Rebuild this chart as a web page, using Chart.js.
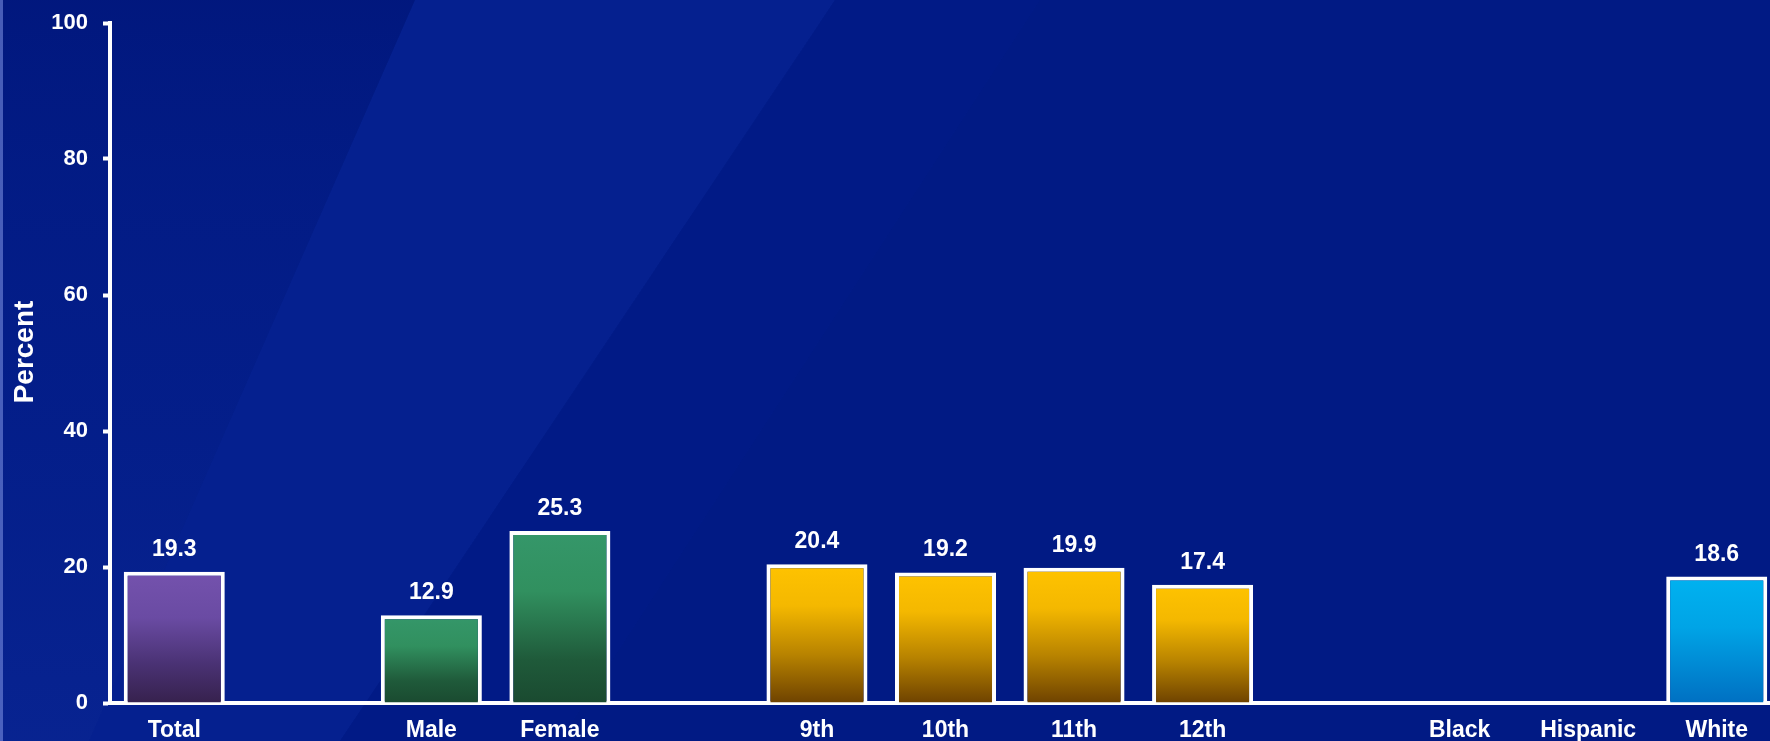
<!DOCTYPE html>
<html>
<head>
<meta charset="utf-8">
<title>Percent by group</title>
<script src="https://cdn.jsdelivr.net/npm/chart.js@4.4.1/dist/chart.umd.min.js"></script>
<style>
    html, body { margin: 0; padding: 0; overflow: hidden; background: #011a84; }
    .chart-wrap { position: relative; width: 1781px; height: 741px; }
</style>
</head>
<body>
<div class="chart-wrap">
    <canvas id="groupChart"></canvas>
</div>
<script>
// Categories (blank entries keep the gaps between groups)
const categories = ['Total', '', 'Male', 'Female', '', '9th', '10th', '11th', '12th', '', 'Black', 'Hispanic', 'White'];
const percents = [19.3, null, 12.9, 25.3, null, 20.4, 19.2, 19.9, 17.4, null, null, null, 18.6];
const barGroups = ['total', null, 'sex', 'sex', null, 'grade', 'grade', 'grade', 'grade', null, 'race', 'race', 'race'];
const yTicks = [0, 20, 40, 60, 80, 100];
const yTitle = 'Percent';

const FONT = '"Liberation Sans", Arial, sans-serif';

// Gradient stops per group, top of bar -> bottom
const groupColors = {
    total: [[0, '#7452ad'], [0.35, '#6a4ba3'], [0.7, '#4a3274'], [1, '#36214d']],
    sex:   [[0, '#35976a'], [0.35, '#31905f'], [0.75, '#1f5a3a'], [1, '#1a4a30']],
    grade: [[0, '#ffc300'], [0.3, '#f4b800'], [0.65, '#b88300'], [1, '#6e4200']],
    race:  [[0, '#00b2f0'], [0.4, '#00a4e6'], [1, '#0070c2']]
};

function barGradient(context) {
    const chart = context.chart;
    if (!chart.chartArea || context.raw == null) return 'transparent';
    const y = chart.scales.y;
    const top = y.getPixelForValue(context.raw);
    const bottom = y.getPixelForValue(0);
    const g = chart.ctx.createLinearGradient(0, top, 0, bottom);
    groupColors[barGroups[context.dataIndex]].forEach(s => g.addColorStop(s[0], s[1]));
    return g;
}

// Navy backdrop with faint diagonal streaks
const backdrop = {
    id: 'backdrop',
    beforeDraw(chart) {
        const ctx = chart.ctx;
        const w = chart.width, h = chart.height;
        ctx.save();
        ctx.fillStyle = '#011a84';
        ctx.fillRect(0, 0, w, h);

        const poly = (pts, color) => {
            ctx.beginPath();
            ctx.moveTo(pts[0][0], pts[0][1]);
            pts.slice(1).forEach(p => ctx.lineTo(p[0], p[1]));
            ctx.closePath();
            ctx.fillStyle = color;
            ctx.fill();
        };
        // left strip: darker at the top, lighter toward the bottom
        const left = ctx.createLinearGradient(0, 0, 0, h);
        left.addColorStop(0, 'rgba(0, 0, 70, 0.10)');
        left.addColorStop(0.5, 'rgba(40, 80, 210, 0.06)');
        left.addColorStop(1, 'rgba(50, 90, 220, 0.14)');
        poly([[0, 0], [415, 0], [89, 741], [0, 741]], left);
        // main lighter band
        poly([[415, 0], [835, 0], [340, 741], [89, 741]], 'rgba(45, 85, 220, 0.12)');
        // faint streak further right
        poly([[835, 0], [1040, 0], [560, 741], [340, 741]], 'rgba(30, 60, 200, 0.04)');

        // light edge on the far left
        ctx.fillStyle = 'rgba(130, 150, 230, 0.55)';
        ctx.fillRect(0, 0, 3, h);
        ctx.restore();
    }
};

// Value above each bar and the rotated axis title
const valueLabels = {
    id: 'valueLabels',
    afterDatasetsDraw(chart) {
        const ctx = chart.ctx;
        const meta = chart.getDatasetMeta(0);
        ctx.save();
        ctx.font = 'bold 23px ' + FONT;
        ctx.fillStyle = '#ffffff';
        ctx.textAlign = 'center';
        ctx.textBaseline = 'alphabetic';
        meta.data.forEach((bar, i) => {
            const v = percents[i];
            if (v == null) return;
            ctx.fillText(v.toFixed(1), bar.x, bar.y - 16);
        });

        ctx.translate(25, 352);
        ctx.rotate(-Math.PI / 2);
        ctx.font = 'bold 28px ' + FONT;
        ctx.textBaseline = 'middle';
        ctx.fillText(yTitle, 0, 0);
        ctx.restore();
    }
};

new Chart(document.getElementById('groupChart'), {
    type: 'bar',
    data: {
        labels: categories,
        datasets: [{
            data: percents,
            backgroundColor: barGradient,
            borderColor: '#ffffff',
            borderWidth: 4,
            borderSkipped: 'bottom',
            barPercentage: 0.786,
            categoryPercentage: 1
        }]
    },
    options: {
        responsive: true,
        maintainAspectRatio: false,
        animation: false,
        layout: { padding: { top: 23, left: 0, right: 0, bottom: 0 } },
        plugins: {
            legend: { display: false },
            tooltip: { enabled: false }
        },
        scales: {
            x: {
                z: 1,
                grid: { display: false, drawTicks: false },
                border: { display: true, color: '#ffffff', width: 4 },
                ticks: {
                    color: '#ffffff',
                    padding: 14,
                    maxRotation: 0,
                    autoSkip: false,
                    font: { family: FONT, size: 23, weight: 'bold' }
                },
                afterFit(scale) { scale.height = 38; }
            },
            y: {
                min: 0,
                max: 100,
                afterBuildTicks(scale) { scale.ticks = yTicks.map(v => ({ value: v })); },
                grid: {
                    display: true,
                    drawOnChartArea: false,
                    drawTicks: true,
                    tickLength: 7,
                    tickWidth: 4,
                    tickColor: '#ffffff'
                },
                border: { display: true, color: '#ffffff', width: 4 },
                ticks: {
                    color: '#ffffff',
                    padding: 15,
                    font: { family: FONT, size: 22, weight: 'bold' }
                },
                afterFit(scale) {
                    scale.width = 110;
                    // labels may overhang; the layout padding handles the top
                    scale.paddingTop = 0;
                    scale.paddingBottom = 0;
                }
            }
        }
    },
    plugins: [backdrop, valueLabels]
});
</script>
</body>
</html>
